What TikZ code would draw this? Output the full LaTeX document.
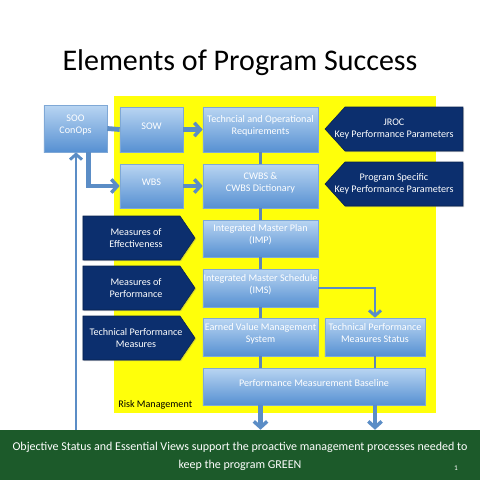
\documentclass[tikz,border=0pt]{standalone}
\usepackage{fontspec}
\setmainfont{Carlito}
\usetikzlibrary{arrows.meta,fit,calc,shadows}
\definecolor{yel}{HTML}{FFFF0A}
\definecolor{ltop}{HTML}{B9D5F2}
\definecolor{lbot}{HTML}{5690D2}
\definecolor{lbrd}{HTML}{7FA8D6}
\definecolor{navy}{HTML}{0C2F6E}
\definecolor{conn}{HTML}{5B8DC6}
\definecolor{vline}{HTML}{5F86B0}
\definecolor{gbar}{HTML}{1C5A2A}
\tikzset{
  shad/.style={drop shadow={opacity=0.35, shadow xshift=0.8pt, shadow yshift=-0.8pt}},
  lbox/.style={draw=lbrd, line width=0.5pt, top color=ltop, bottom color=lbot, inner sep=0pt,
    text=white, align=center, font=\fontsize{7.6}{9}\selectfont, shad},
  ntext/.style={text=white, align=center, font=\fontsize{7.6}{9}\selectfont, inner sep=0pt},
  navyshape/.style={fill=navy, draw=navy!70!black, line width=0.4pt, shad},
  arr/.style={draw=conn, line width=3.6pt, -{Straight Barb[length=4.5pt,width=10pt,line width=2.6pt]}},
  thinarr/.style={draw=conn, line width=2pt, -{Straight Barb[length=4pt,width=9pt,line width=2.2pt]}},
  plain/.style={draw=conn, line width=3.6pt},
  vl/.style={draw=vline, line width=2pt},
}
\begin{document}
\begin{tikzpicture}[x=0.75pt,y=-0.75pt]
\useasboundingbox (0,0) rectangle (480,480);
\fill[white] (0,0) rectangle (480,480);
% title
\node[font=\fontsize{22.5}{27}\selectfont] (title) at (240,63) {Elements of Program Success};
% yellow area
\fill[yel] (114,96) rectangle (436,413);
\node[anchor=west, font=\fontsize{7.6}{9}\selectfont, inner sep=0pt] (risk) at (118,405) {Risk Management};
% light boxes
\node[lbox, fit={(44,105) (107,152)}] (soo) {SOO\\ConOps};
\node[lbox, fit={(120,107) (183,152)}] (sow) {SOW};
\node[lbox, fit={(203,107) (318,152)}] (req) {Techncial and Operational\\Requirements};
\node[lbox, fit={(120,164) (183,208)}] (wbs) {WBS};
\node[lbox, fit={(203,164) (318,208)}] (cwbs) {CWBS \&\\CWBS Dictionary};
\node[lbox, fit={(203,220) (318,257)}] (imp) {Integrated Master Plan\\(IMP)};
\node[lbox, fit={(203,269) (318,307)}] (ims) {Integrated Master Schedule\\(IMS)};
\node[lbox, fit={(203,318) (318,356)}] (evms) {Earned Value Management\\System};
\node[lbox, fit={(325,318) (425,356)}] (tpms) {Technical Performance\\Measures Status};
\node[lbox, fit={(203,368) (425,405)}] (pmb) {Performance Measurement Baseline};
% navy arrow boxes (pointing left)
\path[navyshape] (325,129) -- (345,107) -- (463,107) -- (463,151) -- (345,151) -- cycle;
\node[ntext] (jroc) at (394,129) {JROC\\Key Performance Parameters};
\path[navyshape] (325,184) -- (345,162) -- (463,162) -- (463,206) -- (345,206) -- cycle;
\node[ntext] (psk) at (394,184) {Program Specific\\Key Performance Parameters};
% navy arrow boxes (pointing right)
\path[navyshape] (83,216) -- (180,216) -- (195,238) -- (180,260) -- (83,260) -- cycle;
\node[ntext] (moe) at (136,238) {Measures of\\Effectiveness};
\path[navyshape] (83,266) -- (180,266) -- (195,288) -- (180,310) -- (83,310) -- cycle;
\node[ntext] (mop) at (136,288) {Measures of\\Performance};
\path[navyshape] (83,316) -- (180,316) -- (195,338) -- (180,360) -- (83,360) -- cycle;
\node[ntext] (tpm) at (136,338) {Technical Performance\\Measures};
% bottom bar
\node[fill=gbar, inner sep=0pt, fit={(0,430) (480,480)}] (bar) {};
\node[text=white, align=center, font=\fontsize{9}{13.5}\selectfont] (bartext) at (240,456)
  {Objective Status and Essential Views support the proactive management processes needed to\\keep the program GREEN};
\node[text=white, font=\fontsize{5.5}{6}\selectfont] (pg) at (456,468) {1};
% vertical spine
\draw[vl] (req.south) -- (cwbs.north);
\draw[vl] (cwbs.south) -- (imp.north);
\draw[vl] (imp.south) -- (ims.north);
\draw[vl] (ims.south) -- (evms.north);
\draw[vl] (evms.south) -- (pmb.north -| evms.south);
\draw[vl] (tpms.south) -- (pmb.north -| tpms.south);
% connectors
\draw[plain] (soo.east) -- (sow.west);
\draw[arr] (sow.east) -- (req.west);
\draw[arr] ($(soo.south)+(13,0)$) |- (wbs.west);
\draw[arr] (wbs.east) -- (cwbs.west);
\draw[thinarr] (ims.east) -| (tpms.north);
\draw[arr] (pmb.south -| evms.south) -- (bar.north -| evms.south);
\draw[arr] (pmb.south -| tpms.south) -- (bar.north -| tpms.south);
\draw[thinarr] (bar.north -| 76,0) -- (soo.south -| 76,0);
\end{tikzpicture}
\end{document}
